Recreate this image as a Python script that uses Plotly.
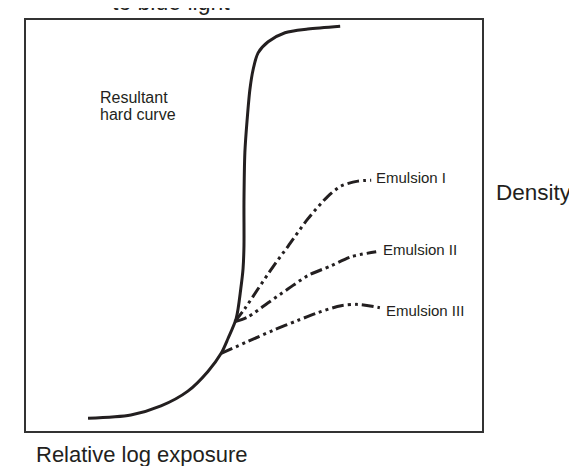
import plotly.graph_objects as go

# relative log exposure (x) and density (y), arbitrary units 0..10
hard_x = [1.36, 2.30, 2.96, 3.55, 3.99, 4.28, 4.43, 4.61, 4.71, 4.76, 4.78, 4.78,
          4.80, 4.85, 4.91, 4.98, 5.09, 5.31, 5.68, 6.18, 6.89]
hard_y = [0.31, 0.39, 0.61, 0.97, 1.45, 1.89, 2.25, 2.74, 3.46, 3.95, 4.50, 5.57,
          6.78, 7.58, 8.31, 8.79, 9.20, 9.47, 9.69, 9.78, 9.85]

em1_x = [4.58, 4.80, 5.09, 5.42, 5.75, 6.18, 6.62, 6.91, 7.28, 7.57]
em1_y = [2.66, 2.98, 3.46, 4.00, 4.50, 5.16, 5.71, 5.96, 6.08, 6.10]

em2_x = [4.58, 4.87, 5.31, 5.75, 6.18, 6.69, 7.13, 7.68]
em2_y = [2.66, 2.78, 3.12, 3.46, 3.78, 4.02, 4.24, 4.36]

em3_x = [4.28, 4.87, 5.42, 5.96, 6.40, 6.91, 7.28, 7.76]
em3_y = [1.89, 2.18, 2.45, 2.69, 2.88, 3.05, 3.08, 3.00]

emulsion_labels = ["Emulsion I", "Emulsion II", "Emulsion III"]

INK = "#231f20"
FONT = "Liberation Sans, Arial, sans-serif"
DASH = "12px,4px,3px,4px,3px,4px"

fig = go.Figure()
fig.add_trace(go.Scatter(x=hard_x, y=hard_y, mode="lines",
                         line=dict(color=INK, width=3, shape="spline", smoothing=0.8)))
for xs, ys in [(em1_x, em1_y), (em2_x, em2_y), (em3_x, em3_y)]:
    fig.add_trace(go.Scatter(x=xs, y=ys, mode="lines",
                             line=dict(color=INK, width=3, dash=DASH,
                                       shape="spline", smoothing=0.8)))

label_pos = [(0.763, 0.617), (0.779, 0.441), (0.785, 0.293)]
for text, (lx, ly) in zip(emulsion_labels, label_pos):
    fig.add_annotation(x=lx, y=ly, xref="paper", yref="paper", text=text,
                       showarrow=False, xanchor="left", yanchor="middle",
                       font=dict(size=15, color=INK, family=FONT))

fig.add_annotation(x=0.160, y=0.811, xref="paper", yref="paper", text="Resultant",
                   showarrow=False, xanchor="left", yanchor="middle", borderpad=0,
                   font=dict(size=16, color=INK, family=FONT))
fig.add_annotation(x=0.160, y=0.770, xref="paper", yref="paper", text="hard curve",
                   showarrow=False, xanchor="left", yanchor="middle", borderpad=0,
                   font=dict(size=16, color=INK, family=FONT))
fig.add_annotation(x=1.026, y=0.581, xref="paper", yref="paper", text="Density",
                   showarrow=False, xanchor="left", yanchor="middle",
                   font=dict(size=22.5, color=INK, family=FONT))
fig.add_annotation(x=0.0175, y=-0.056, xref="paper", yref="paper",
                   text="Relative log exposure", showarrow=False,
                   xanchor="left", yanchor="middle",
                   font=dict(size=22, color=INK, family=FONT))
fig.add_annotation(x=0.318, y=1.044, xref="paper", yref="paper",
                   text="to blue light", showarrow=False,
                   xanchor="center", yanchor="middle",
                   font=dict(size=23, color=INK, family=FONT))

axis = dict(range=[0, 10], showgrid=False, zeroline=False, showticklabels=False,
            ticks="", showline=True, mirror=True, linecolor="#333333", linewidth=1.5)
fig.update_xaxes(**axis)
fig.update_yaxes(**axis)
fig.update_layout(
    width=577, height=466,
    margin=dict(l=18, r=103, t=10, b=43),
    paper_bgcolor="white", plot_bgcolor="white",
    showlegend=False,
)
fig.write_html("out.html")
